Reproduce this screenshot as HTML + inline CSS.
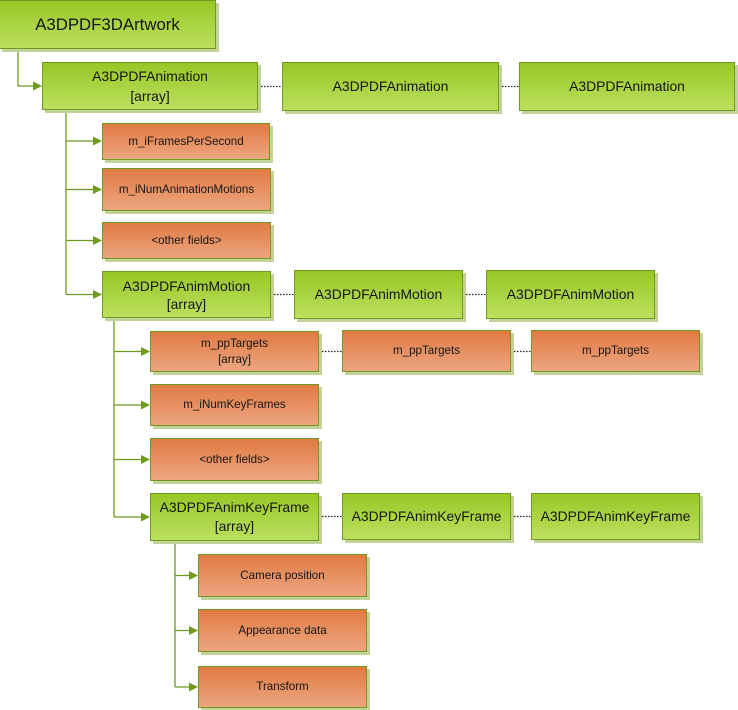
<!DOCTYPE html>
<html><head><meta charset="utf-8"><style>
html,body{margin:0;padding:0;background:#fff;}
body{width:738px;height:710px;position:relative;overflow:hidden;font-family:"Liberation Sans",sans-serif;color:#161616;}
.b{position:absolute;box-sizing:border-box;border:1px solid #6e9a1e;box-shadow:3px 3px 0 #c2d39a;display:flex;align-items:center;justify-content:center;text-align:center;}
.g{background:linear-gradient(#98c726,#bbe05e);font-size:13.9px;line-height:19px;}
.o{background:linear-gradient(#e17a43,#eca680);font-size:11.6px;line-height:16px;}
svg{position:absolute;left:0;top:0;}
</style></head><body>
<svg width="738" height="710">
<g stroke="#6e9a1e" stroke-width="1.3" fill="none">
<polyline points="18,48 18,86 36,86"/>
<polyline points="66,110 66,294.5"/>
<line x1="66" y1="141" x2="96" y2="141"/>
<line x1="66" y1="189.5" x2="96" y2="189.5"/>
<line x1="66" y1="240.5" x2="96" y2="240.5"/>
<line x1="66" y1="294.5" x2="96" y2="294.5"/>
<polyline points="114,318 114,517"/>
<line x1="114" y1="351.5" x2="144" y2="351.5"/>
<line x1="114" y1="405" x2="144" y2="405"/>
<line x1="114" y1="459.5" x2="144" y2="459.5"/>
<line x1="114" y1="517" x2="144" y2="517"/>
<polyline points="175,541 175,687"/>
<line x1="175" y1="575.5" x2="192" y2="575.5"/>
<line x1="175" y1="630.5" x2="192" y2="630.5"/>
<line x1="175" y1="687" x2="192" y2="687"/>
</g>
<g fill="#6e9a1e">
<polygon points="33,81.5 42,86 33,90.5"/>
<polygon points="93,136.5 102,141 93,145.5"/>
<polygon points="93,185 102,189.5 93,194"/>
<polygon points="93,236 102,240.5 93,245"/>
<polygon points="93,290 102,294.5 93,299"/>
<polygon points="141,347 150,351.5 141,356"/>
<polygon points="141,400.5 150,405 141,409.5"/>
<polygon points="141,455 150,459.5 141,464"/>
<polygon points="141,512.5 150,517 141,521.5"/>
<polygon points="189,571 198,575.5 189,580"/>
<polygon points="189,626 198,630.5 189,635"/>
<polygon points="189,682.5 198,687 189,691.5"/>
</g>
<g stroke="#222" stroke-width="1.2" stroke-dasharray="1.5,1.5">
<line x1="258" y1="86.5" x2="282" y2="86.5"/>
<line x1="499" y1="86.5" x2="519" y2="86.5"/>
<line x1="271" y1="294.5" x2="294" y2="294.5"/>
<line x1="463" y1="294.5" x2="486" y2="294.5"/>
<line x1="319" y1="351.5" x2="342" y2="351.5"/>
<line x1="511" y1="351.5" x2="531" y2="351.5"/>
<line x1="319" y1="516.5" x2="342" y2="516.5"/>
<line x1="511" y1="516.5" x2="531" y2="516.5"/>
</g>
</svg>
<div class="b g" style="left:-1px;top:0;width:217px;height:49px;font-size:16.8px;">A3DPDF3DArtwork</div>
<div class="b g" style="left:42px;top:62px;width:216px;height:48px;line-height:20px;">A3DPDFAnimation<br>[array]</div>
<div class="b g" style="left:282px;top:62px;width:217px;height:49px;">A3DPDFAnimation</div>
<div class="b g" style="left:519px;top:62px;width:216px;height:49px;">A3DPDFAnimation</div>
<div class="b o" style="left:102px;top:123px;width:168px;height:37px;">m_iFramesPerSecond</div>
<div class="b o" style="left:102px;top:168px;width:169px;height:43px;">m_iNumAnimationMotions</div>
<div class="b o" style="left:102px;top:222px;width:169px;height:37px;">&lt;other fields&gt;</div>
<div class="b g" style="left:102px;top:271px;width:169px;height:47px;line-height:18px;">A3DPDFAnimMotion<br>[array]</div>
<div class="b g" style="left:294px;top:270px;width:169px;height:49px;">A3DPDFAnimMotion</div>
<div class="b g" style="left:486px;top:270px;width:169px;height:49px;">A3DPDFAnimMotion</div>
<div class="b o" style="left:150px;top:331px;width:169px;height:41px;">m_ppTargets<br>[array]</div>
<div class="b o" style="left:342px;top:330px;width:169px;height:42px;">m_ppTargets</div>
<div class="b o" style="left:531px;top:330px;width:169px;height:42px;">m_ppTargets</div>
<div class="b o" style="left:150px;top:384px;width:169px;height:42px;">m_iNumKeyFrames</div>
<div class="b o" style="left:150px;top:438px;width:169px;height:43px;">&lt;other fields&gt;</div>
<div class="b g" style="left:150px;top:493px;width:169px;height:48px;">A3DPDFAnimKeyFrame<br>[array]</div>
<div class="b g" style="left:342px;top:493px;width:169px;height:47px;">A3DPDFAnimKeyFrame</div>
<div class="b g" style="left:531px;top:493px;width:169px;height:47px;">A3DPDFAnimKeyFrame</div>
<div class="b o" style="left:198px;top:554px;width:169px;height:43px;">Camera position</div>
<div class="b o" style="left:198px;top:609px;width:169px;height:43px;">Appearance data</div>
<div class="b o" style="left:198px;top:666px;width:169px;height:42px;">Transform</div>
</body></html>
